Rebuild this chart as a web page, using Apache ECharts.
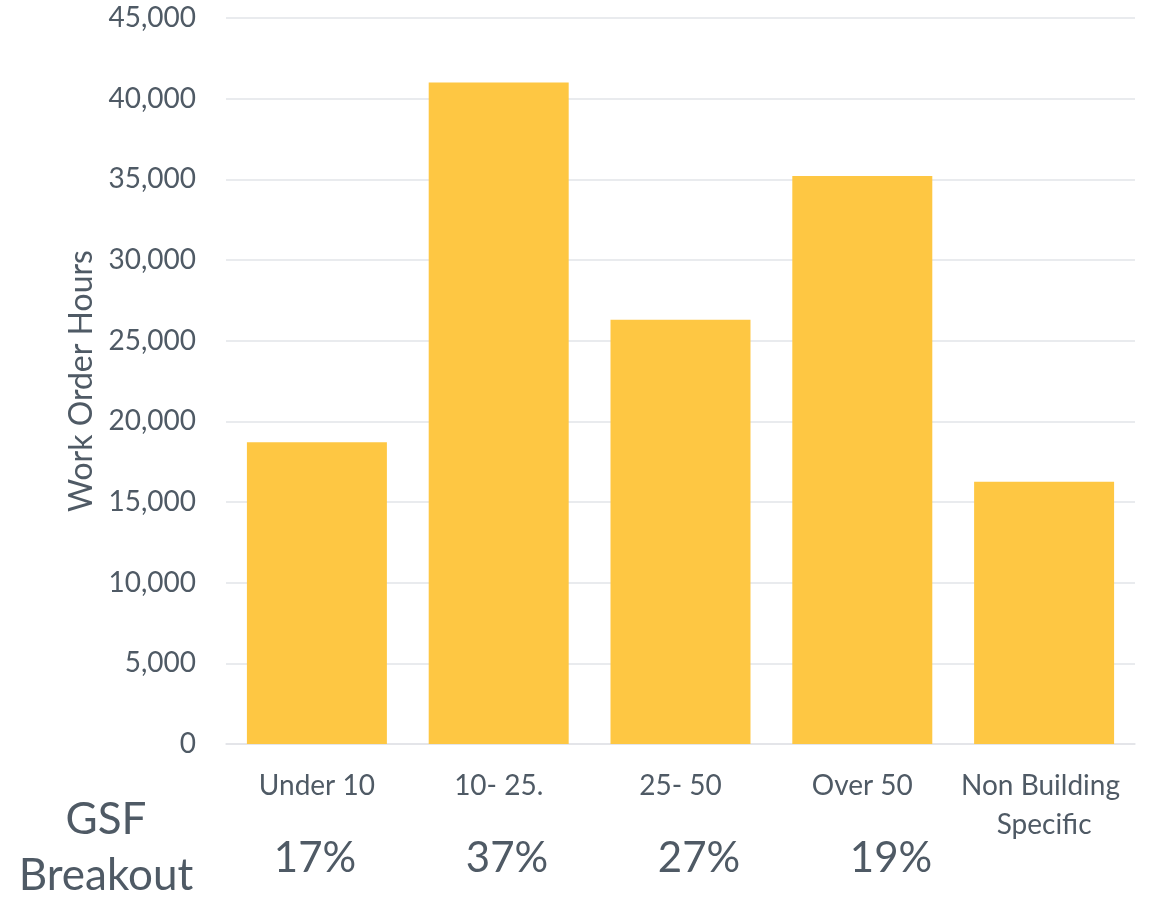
<!DOCTYPE html>
<html>
<head>
<meta charset="utf-8">
<script src="https://cdn.jsdelivr.net/npm/echarts@6/dist/echarts.min.js"></script>
<style>
  html, body { margin: 0; padding: 0; background: #ffffff; }
  #chart { width: 1155px; height: 899px; }
</style>
</head>
<body>
<div id="chart"></div>
<script>
// Work order hours by building size (GSF, thousands of sq ft)
const categories = ['Under 10', '10- 25.', '25- 50', 'Over 50', 'Non Building Specific'];
const workOrderHours = [18700, 41000, 26300, 35200, 16250];
// Share of gross square footage in each size band
const gsfShare = ['17%', '37%', '27%', '19%'];
const yTicks = { min: 0, max: 45000, interval: 5000 };

const textColor = '#4F5A65';
const fontFamily = 'Lato, "Noto Sans", sans-serif';

const chart = echarts.init(document.getElementById('chart'));
chart.setOption({
  animation: false,
  textStyle: { fontFamily: fontFamily, color: textColor },
  grid: [
    { left: 226, right: 20, top: 18, bottom: 155 },
    { left: 219, right: 168, top: 800, height: 30 }
  ],
  xAxis: [
    {
      type: 'category',
      gridIndex: 0,
      data: categories,
      axisLine: { show: true, lineStyle: { color: '#E2E4E8', width: 1.5 } },
      axisTick: { show: false },
      axisLabel: {
        color: textColor,
        fontFamily: fontFamily,
        fontSize: 28,
        lineHeight: 39,
        margin: 22,
        width: 176,
        overflow: 'break',
        interval: 0
      }
    },
    {
      type: 'category',
      gridIndex: 1,
      data: gsfShare,
      axisLine: { show: false },
      axisTick: { show: false },
      axisLabel: {
        color: textColor,
        fontFamily: fontFamily,
        fontSize: 42,
        lineHeight: 50,
        margin: 3,
        interval: 0
      }
    }
  ],
  yAxis: [
    {
      type: 'value',
      gridIndex: 0,
      min: yTicks.min,
      max: yTicks.max,
      interval: yTicks.interval,
      name: 'Work Order Hours',
      nameLocation: 'middle',
      nameGap: 126,
      nameTextStyle: { color: textColor, fontFamily: fontFamily, fontSize: 32 },
      axisLine: { show: false },
      axisTick: { show: false },
      axisLabel: {
        color: textColor,
        fontFamily: fontFamily,
        fontSize: 28,
        margin: 30,
        formatter: function (v) { return v.toLocaleString('en-US'); }
      },
      splitLine: { show: true, lineStyle: { color: '#E2E4E8', width: 1.5 } }
    },
    {
      type: 'value',
      gridIndex: 1,
      show: false
    }
  ],
  graphic: [
    {
      type: 'text',
      x: 106,
      y: 792,
      style: {
        text: 'GSF\nBreakout',
        fill: textColor,
        font: '44px ' + fontFamily,
        lineHeight: 56,
        align: 'center',
        verticalAlign: 'top'
      }
    }
  ],
  series: [
    {
      type: 'bar',
      xAxisIndex: 0,
      yAxisIndex: 0,
      data: workOrderHours,
      barCategoryGap: '23%',
      itemStyle: { color: '#FEC743' }
    }
  ]
});
</script>
</body>
</html>
